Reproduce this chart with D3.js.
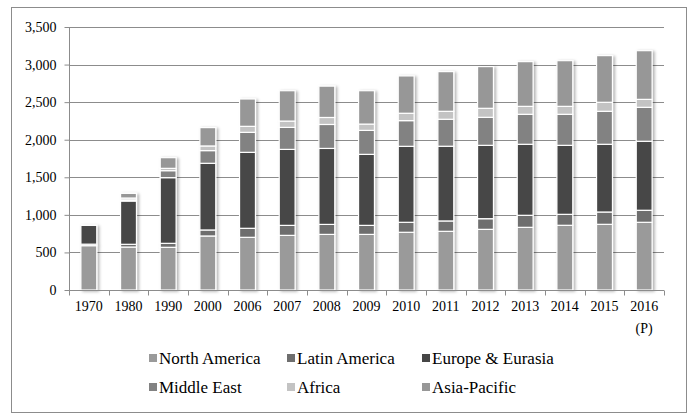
<!DOCTYPE html>
<html>
<head>
<meta charset="utf-8">
<script src="https://cdn.jsdelivr.net/npm/d3@7"></script>
<style>
  body { margin: 0; background: #fff; }
</style>
</head>
<body>
<svg id="chart" width="696" height="420"></svg>
<script>
// categories and series
const years = ["1970", "1980", "1990", "2000", "2006", "2007", "2008", "2009", "2010", "2011", "2012", "2013", "2014", "2015", "2016"];
const regions = ["North America", "Latin America", "Europe & Eurasia", "Middle East", "Africa", "Asia-Pacific"];
const northAmerica = [590, 572, 568, 719, 701, 727, 740, 740, 768, 781, 807, 834, 861, 874, 901];
const latinAmerica = [20, 36, 53, 80, 120, 133, 133, 120, 133, 138, 142, 160, 146, 164, 160];
const europeEurasia = [250, 576, 874, 887, 1011, 1011, 1011, 945, 1011, 994, 976, 945, 918, 901, 918];
const middleEast = [0, 15, 93, 169, 266, 293, 319, 319, 342, 359, 373, 399, 413, 439, 452];
const africa = [0, 25, 31, 62, 80, 84, 93, 84, 98, 106, 120, 106, 106, 120, 106];
const asiaPacific = [0, 62, 142, 244, 364, 404, 417, 444, 497, 528, 555, 595, 608, 621, 648];
const yTicks = [0, 500, 1000, 1500, 2000, 2500, 3000, 3500];
const colors = ["#9a9a9a", "#6e6e6e", "#464646", "#828282", "#c3c3c3", "#979797"];

const FONT = '"Liberation Serif", "Times New Roman", "DejaVu Serif", serif';

const series = [northAmerica, latinAmerica, europeEurasia, middleEast, africa, asiaPacific];
const rows = years.map((y, i) => {
  const r = { year: y };
  regions.forEach((k, j) => r[k] = series[j][i]);
  return r;
});

const svg = d3.select('#chart');
const margin = { left: 69, right: 32, top: 27, bottom: 130 };
const width = 696, height = 420;

// outer frame
svg.append('rect')
  .attr('x', 11.5).attr('y', 7.5)
  .attr('width', 675).attr('height', 405)
  .attr('fill', 'none').attr('stroke', '#8c8c8c');

const x = d3.scaleBand().domain(years).range([margin.left, width - margin.right]).paddingInner(0.6).paddingOuter(0.3);
const y = d3.scaleLinear().domain([0, 3500]).range([height - margin.bottom, margin.top]);

// shadow filter
const defs = svg.append('defs');
const f = defs.append('filter').attr('id', 'shadow').attr('x', '-30%').attr('y', '-10%').attr('width', '170%').attr('height', '120%');
f.append('feDropShadow').attr('dx', 2).attr('dy', 1).attr('stdDeviation', 1.5).attr('flood-color', '#000').attr('flood-opacity', 0.3);

// gridlines
svg.append('g')
  .selectAll('line')
  .data(yTicks.slice(1))
  .enter().append('line')
  .attr('x1', margin.left).attr('x2', width - margin.right)
  .attr('y1', d => Math.round(y(d)) + 0.5).attr('y2', d => Math.round(y(d)) + 0.5)
  .attr('stroke', '#8c8c8c');

// y axis
const yAxis = svg.append('g')
  .attr('transform', `translate(${margin.left + 0.5},0)`)
  .call(d3.axisLeft(y).tickValues(yTicks).tickSize(5).tickPadding(8).tickFormat(d3.format(',')));
yAxis.attr('font-family', null).attr('font-size', null);
yAxis.selectAll('line, path').attr('stroke', '#8c8c8c');
yAxis.select('.domain').attr('d', `M0,${y(0)}V${y(3500)}`);
yAxis.selectAll('text').style('font-size', '14px').style('font-family', FONT).attr('fill', '#000');

// stacked bars
const stack = d3.stack().keys(regions)(rows);
const layers = svg.append('g').attr('filter', 'url(#shadow)');
stack.forEach((layer, j) => {
  layers.append('g')
    .selectAll('rect')
    .data(layer.filter(d => d[1] - d[0] > 0))
    .enter().append('rect')
    .attr('x', d => x(d.data.year))
    .attr('width', x.bandwidth())
    .attr('y', d => y(d[1]))
    .attr('height', d => y(d[0]) - y(d[1]))
    .attr('fill', colors[j])
    .attr('stroke', '#fff')
    .attr('stroke-width', 1.2);
});

// x axis
const xAxis = svg.append('g').attr('transform', `translate(0,${Math.round(y(0)) + 0.5})`);
xAxis.append('line')
  .attr('x1', margin.left).attr('x2', width - margin.right)
  .attr('stroke', '#8c8c8c');
xAxis.selectAll('.tk')
  .data(d3.range(years.length + 1))
  .enter().append('line')
  .attr('x1', i => Math.round(margin.left + i * (width - margin.left - margin.right) / years.length) + 0.5)
  .attr('x2', i => Math.round(margin.left + i * (width - margin.left - margin.right) / years.length) + 0.5)
  .attr('y1', 0).attr('y2', 5)
  .attr('stroke', '#8c8c8c');
xAxis.selectAll('.lbl')
  .data(years)
  .enter().append('text')
  .attr('x', d => x(d) + x.bandwidth() / 2)
  .attr('y', 20)
  .attr('text-anchor', 'middle')
  .style('font-size', '14px')
  .style('font-family', FONT)
  .text(d => d);
xAxis.append('text')
  .attr('x', x('2016') + x.bandwidth() / 2)
  .attr('y', 42)
  .attr('text-anchor', 'middle')
  .style('font-size', '14px')
  .style('font-family', FONT)
  .text('(P)');

// legend
const legendCols = [149, 287, 422];
const legendRows = [358, 387];
const legend = svg.append('g');
regions.forEach((r, i) => {
  const lx = legendCols[i % 3], ly = legendRows[Math.floor(i / 3)];
  legend.append('rect')
    .attr('x', lx).attr('y', ly - 4)
    .attr('width', 8).attr('height', 8)
    .attr('fill', colors[i]);
  legend.append('text')
    .attr('x', lx + 10).attr('y', ly + 6)
    .style('font-size', '17px')
    .style('font-family', FONT)
    .text(r);
});
</script>
</body>
</html>
